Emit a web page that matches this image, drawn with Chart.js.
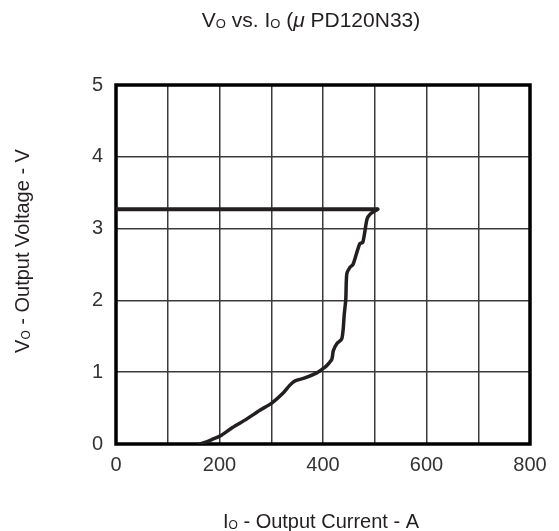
<!DOCTYPE html>
<html>
<head>
<meta charset="utf-8">
<script src="https://cdn.jsdelivr.net/npm/chart.js"></script>
<style>
  html, body { margin: 0; padding: 0; background: #fff; }
  #chart { display: block; }
</style>
</head>
<body>
<canvas id="chart" width="559" height="531"></canvas>
<script>
// Io (A) / Vo (V)
const currentA = [162, 175, 188, 201, 225, 253, 278, 301, 323, 336, 346, 365, 388, 400, 407, 417, 420, 427, 436, 439, 441, 444, 446, 452, 458, 471, 477, 485, 491, 506];
const voltageV = [0, 0.03, 0.07, 0.11, 0.23, 0.35, 0.47, 0.57, 0.71, 0.82, 0.88, 0.92, 0.99, 1.05, 1.09, 1.18, 1.30, 1.40, 1.46, 1.60, 1.80, 2.01, 2.37, 2.46, 2.50, 2.79, 2.81, 3.13, 3.20, 3.27];

// regulated output level
const limitCurrentA = [0, 506];
const limitVoltageV = [3.27, 3.27];

const xTickLabels = ['0', '200', '400', '600', '800'];
const yTickLabels = ['0', '1', '2', '3', '4', '5'];

// text parts, sub = subscript, it = italic
const titleParts = [{ t: 'V' }, { t: 'O', sub: true }, { t: ' vs. I' }, { t: 'O', sub: true }, { t: ' (' }, { t: 'μ', it: true }, { t: ' PD120N33)' }];
const yTitleParts = [{ t: 'V' }, { t: 'O', sub: true }, { t: ' - Output Voltage - V' }];
const xTitleParts = [{ t: 'I' }, { t: 'O', sub: true }, { t: ' - Output Current - A' }];

const FONT = '"Liberation Sans", Arial, sans-serif';
const INK = '#231f20';

function toPoints(xs, ys) {
  return xs.map((x, i) => ({ x: x, y: ys[i] }));
}

function partFont(p, size) {
  const s = p.sub ? Math.round(size * 0.62) : size;
  return (p.it ? 'italic ' : '') + s + 'px ' + FONT;
}

// draws a line of text with small subscripts, centred on cx, baseline at cy
function drawRichText(ctx, parts, cx, cy, size, rot) {
  ctx.save();
  ctx.translate(cx, cy);
  ctx.rotate(rot || 0);
  ctx.fillStyle = INK;
  ctx.textBaseline = 'alphabetic';
  ctx.textAlign = 'left';
  let total = 0;
  parts.forEach((p) => {
    ctx.font = partFont(p, size);
    total += ctx.measureText(p.t).width;
  });
  let x = -total / 2;
  parts.forEach((p) => {
    ctx.font = partFont(p, size);
    ctx.fillText(p.t, x, p.sub ? size * 0.06 : 0);
    x += ctx.measureText(p.t).width;
  });
  ctx.restore();
}

const frameAndTitles = {
  id: 'frameAndTitles',
  beforeDatasetsDraw(chart) {
    const a = chart.chartArea;
    const ctx = chart.ctx;
    ctx.save();
    ctx.strokeStyle = '#000';
    ctx.lineWidth = 3.5;
    ctx.strokeRect(a.left, a.top, a.right - a.left, a.bottom - a.top);
    ctx.restore();
  },
  afterDraw(chart) {
    const a = chart.chartArea;
    const ctx = chart.ctx;
    const midX = (a.left + a.right) / 2;
    drawRichText(ctx, titleParts, midX - 12, 27, 21, 0);
    drawRichText(ctx, yTitleParts, 29, 251, 20, -Math.PI / 2);
    drawRichText(ctx, xTitleParts, midX - 2, 528, 20, 0);
  }
};

new Chart(document.getElementById('chart'), {
  type: 'line',
  data: {
    datasets: [
      {
        data: toPoints(currentA, voltageV),
        borderColor: INK,
        borderWidth: 3.5,
        pointRadius: 0,
        tension: 0.25,
        borderJoinStyle: 'round',
        borderCapStyle: 'round'
      },
      {
        data: toPoints(limitCurrentA, limitVoltageV),
        borderColor: INK,
        borderWidth: 4,
        pointRadius: 0,
        tension: 0
      }
    ]
  },
  options: {
    responsive: false,
    animation: false,
    devicePixelRatio: 1,
    layout: { padding: { top: 85, right: 29, left: 0, bottom: 0 } },
    plugins: { legend: { display: false }, title: { display: false }, tooltip: { enabled: false } },
    scales: {
      x: {
        type: 'linear',
        min: 0,
        max: 800,
        afterFit: (s) => { s.height = 87; },
        border: { display: false },
        grid: { color: '#3a3a3a', lineWidth: 1.5, drawTicks: false },
        ticks: {
          stepSize: 100,
          autoSkip: false,
          maxRotation: 0,
          padding: 9,
          color: '#333',
          font: { family: FONT, size: 20 },
          callback: (v) => (xTickLabels.includes(String(v)) ? String(v) : '')
        }
      },
      y: {
        type: 'linear',
        min: 0,
        max: 5,
        afterFit: (s) => { s.width = 116; },
        border: { display: false },
        grid: { color: '#3a3a3a', lineWidth: 1.5, drawTicks: false },
        ticks: {
          stepSize: 1,
          padding: 13,
          color: '#333',
          font: { family: FONT, size: 20 },
          callback: (v) => (yTickLabels.includes(String(v)) ? String(v) : '')
        }
      }
    }
  },
  plugins: [frameAndTitles]
});
</script>
</body>
</html>
